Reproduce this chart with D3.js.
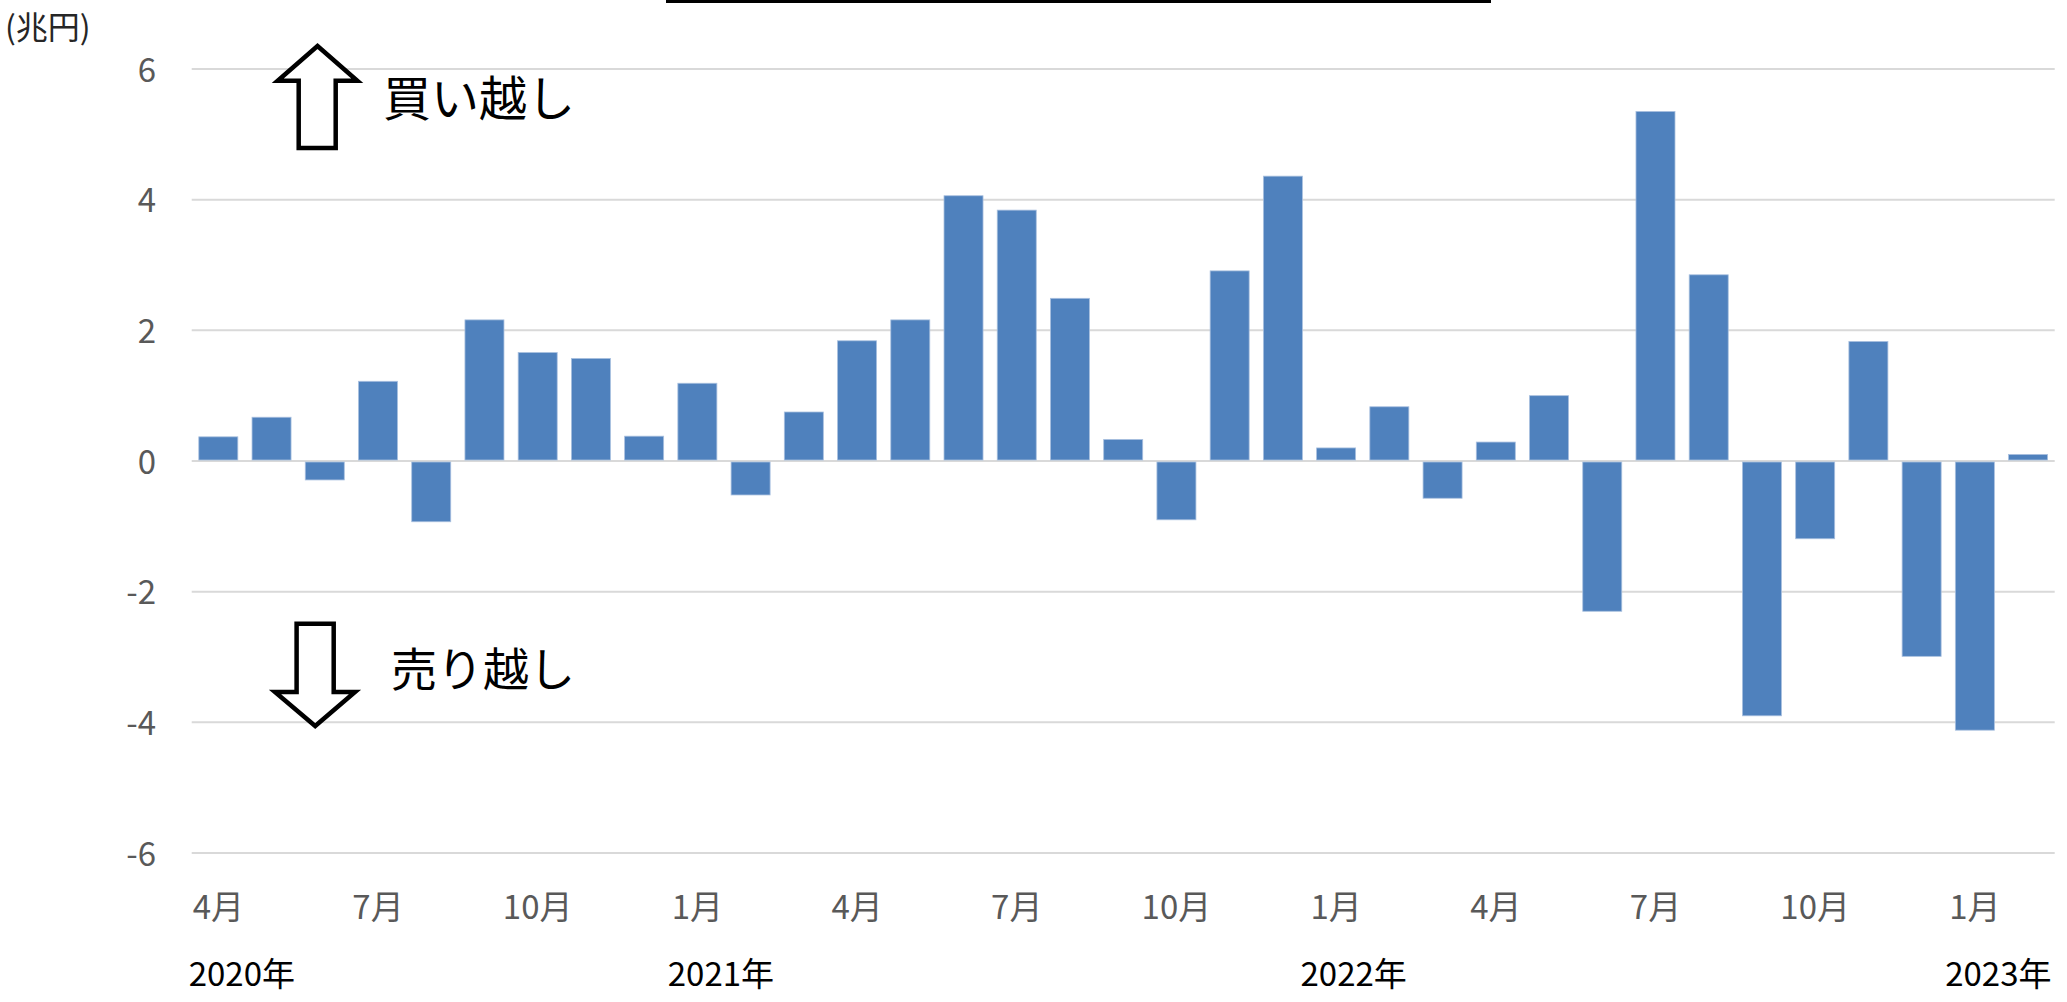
<!DOCTYPE html>
<html>
<head>
<meta charset="utf-8">
<script src="https://cdn.jsdelivr.net/npm/d3@7"></script>
<style>
  html, body { margin: 0; padding: 0; background: #fff; }
  svg { display: block; font-family: "Noto Sans CJK JP", "Noto Sans", sans-serif; }
</style>
</head>
<body>
<svg id="chart" width="2067" height="1002"></svg>
<script>
"use strict";

// months on the x axis (Apr 2020 - Feb 2023)
let months = [
  "2020-04", "2020-05", "2020-06", "2020-07", "2020-08", "2020-09", "2020-10", "2020-11", "2020-12",
  "2021-01", "2021-02", "2021-03", "2021-04", "2021-05", "2021-06", "2021-07", "2021-08", "2021-09",
  "2021-10", "2021-11", "2021-12",
  "2022-01", "2022-02", "2022-03", "2022-04", "2022-05", "2022-06", "2022-07", "2022-08", "2022-09",
  "2022-10", "2022-11", "2022-12",
  "2023-01", "2023-02"
];

// net buying (+) / selling (-), trillion yen
let values = [
  0.37, 0.67, -0.29, 1.22, -0.93, 2.16, 1.66, 1.57, 0.38,
  1.19, -0.52, 0.75, 1.84, 2.16, 4.06, 3.84, 2.49, 0.33,
  -0.90, 2.91, 4.36,
  0.20, 0.83, -0.57, 0.29, 1.00, -2.30, 5.35, 2.85, -3.90,
  -1.19, 1.83, -2.99,
  -4.12, 0.10
];

// which months get a label, and what it says
let tickMonths = ["2020-04", "2020-07", "2020-10", "2021-01", "2021-04", "2021-07", "2021-10",
  "2022-01", "2022-04", "2022-07", "2022-10", "2023-01"];
let tickLabels = ["4月", "7月", "10月", "1月", "4月", "7月", "10月", "1月", "4月", "7月", "10月", "1月"];

// year labels and the month each one starts at
let years = ["2020年", "2021年", "2022年", "2023年"];
let yearStarts = ["2020-04", "2021-01", "2022-01", "2023-01"];

let yTicks = [-6, -4, -2, 0, 2, 4, 6];

let svg = d3.select("#chart");
let plotLeft = 191.7, plotRight = 2054.7, plotTop = 69, plotBottom = 853;

let x = d3.scaleBand()
  .domain(months)
  .range([plotLeft, plotRight])
  .paddingInner(0.267)
  .paddingOuter(0.1335);

let y = d3.scaleLinear()
  .domain([-6, 6])
  .range([plotBottom, plotTop]);

// thin black rule at the very top (cut-off title border)
svg.append("rect")
  .attr("x", 666).attr("y", 0)
  .attr("width", 825).attr("height", 3)
  .attr("fill", "#000");

// gridlines
svg.append("g")
  .selectAll("line")
  .data(yTicks)
  .join("line")
  .attr("x1", plotLeft).attr("x2", plotRight)
  .attr("y1", d => y(d)).attr("y2", d => y(d))
  .attr("stroke", "#d9d9d9")
  .attr("stroke-width", 2);

// y tick labels
svg.append("g")
  .selectAll("text")
  .data(yTicks)
  .join("text")
  .attr("x", 156)
  .attr("y", d => y(d) + 12.5)
  .attr("text-anchor", "end")
  .attr("fill", "#595959")
  .style("font-size", "33px")
  .text(d => d);

// unit label
svg.append("text")
  .attr("x", 5).attr("y", 39)
  .attr("fill", "#262626")
  .style("font-size", "32px")
  .text("(兆円)");

// bars
svg.append("g")
  .selectAll("rect")
  .data(values)
  .join("rect")
  .attr("x", (d, i) => x(months[i]))
  .attr("width", x.bandwidth())
  .attr("y", d => d >= 0 ? y(d) : y(0) + 1)
  .attr("height", d => Math.abs(y(d) - y(0)) - 1)
  .attr("fill", "#4f81bd")
  .attr("stroke", "#a9c0df")
  .attr("stroke-width", 0.8);

// month labels
svg.append("g")
  .selectAll("text")
  .data(tickMonths)
  .join("text")
  .attr("x", d => x(d) + x.bandwidth() / 2)
  .attr("y", 919)
  .attr("text-anchor", "middle")
  .attr("fill", "#595959")
  .style("font-size", "33px")
  .text((d, i) => tickLabels[i]);

// year labels, placed at the first month of each year
svg.append("g")
  .selectAll("text")
  .data(years)
  .join("text")
  .attr("x", (d, i) => x(yearStarts[i]) - x.step() * x.paddingOuter() - (i === 2 ? 9 : 3))
  .attr("y", 986)
  .attr("fill", "#000")
  .style("font-size", "33px")
  .text(d => d);

// buy / sell arrows (annotation shapes)
let upArrow = [[317.5, 46], [357.3, 80.7], [335.7, 80.7], [335.7, 148], [298.7, 148], [298.7, 80.7], [277.7, 80.7]];
let downArrow = [[296.6, 623.7], [333.7, 623.7], [333.7, 692], [355, 692], [315.2, 726], [275, 692], [296.6, 692]];

[upArrow, downArrow].forEach(pts => {
  svg.append("path")
    .attr("d", d3.line()(pts) + "Z")
    .attr("fill", "#fff")
    .attr("stroke", "#000")
    .attr("stroke-width", 4.5)
    .attr("stroke-linejoin", "miter");
});

svg.append("text")
  .attr("x", 383).attr("y", 116)
  .attr("fill", "#000")
  .style("font-size", "48px")
  .text("買い越し");

svg.append("text")
  .attr("x", 391).attr("y", 686)
  .attr("fill", "#000")
  .style("font-size", "46px")
  .text("売り越し");
</script>
</body>
</html>
